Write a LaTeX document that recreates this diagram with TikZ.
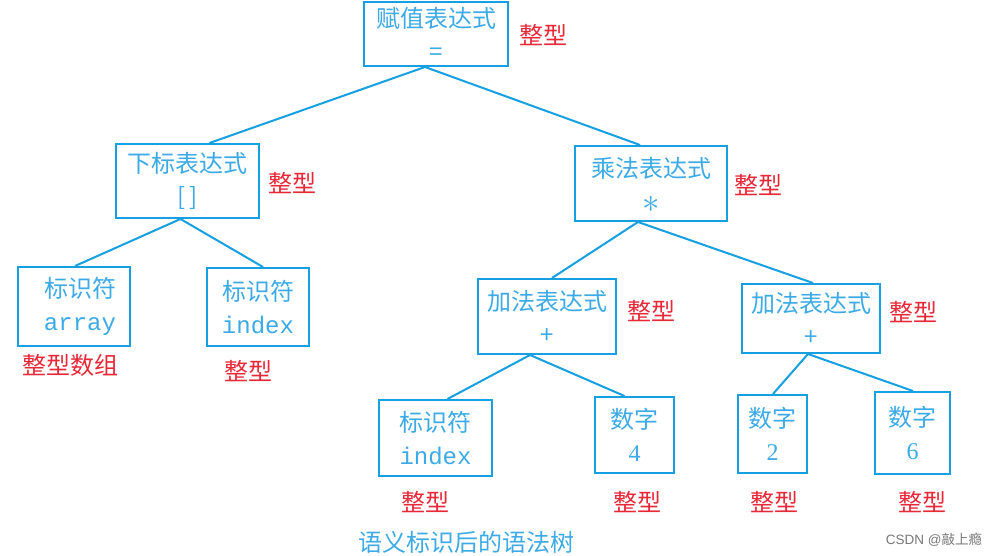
\documentclass[tikz,border=0pt]{standalone}
\usepackage{fontspec}
\usepackage{graphicx}
\setmainfont{Liberation Serif}
\newfontfamily\cjk{Noto Sans CJK SC}
\newfontfamily\codefont{Liberation Mono}
\newfontfamily\wmfont{Liberation Sans}
\definecolor{boxblue}{RGB}{22,160,225}
\definecolor{txtblue}{RGB}{60,170,230}
\definecolor{lblred}{RGB}{232,40,55}
\definecolor{wmgray}{RGB}{120,120,120}
\tikzset{
  treebox/.style={draw=boxblue, line width=2pt, align=center, text=txtblue,
    inner sep=0pt, font=\fontsize{24}{33}\selectfont\cjk},
  typelbl/.style={text=lblred, font=\fontsize{24}{28}\selectfont\cjk, inner sep=0pt},
  edge/.style={draw=boxblue, line width=2pt},
}
\begin{document}
\begin{tikzpicture}[x=1pt,y=-1pt]
\useasboundingbox[fill=white] (0,0) rectangle (998,556);
% boxes
\node[treebox, minimum width=144pt, minimum height=64pt] (root) at (436,34) {赋值表达式\\{=}};
\node[treebox, minimum width=143pt, minimum height=74pt] (sub) at (187.5,181) {下标表达式\\{[\,]}};
\node[treebox, minimum width=152pt, minimum height=75pt] (mul) at (651,183.5) {乘法表达式\\{\raisebox{-2pt}[0pt][0pt]{\scalebox{1.4}{$\ast$}}}};
\node[treebox, minimum width=112pt, minimum height=79pt] (arr) at (74,306.5) {\hspace*{12pt}标识符\\\hspace*{12pt}{\codefont array}};
\node[treebox, minimum width=102pt, minimum height=78pt] (idxa) at (258,307) {标识符\\{\codefont index}};
\node[treebox, minimum width=138pt, minimum height=75pt] (adda) at (547,316.5) {加法表达式\\{+}};
\node[treebox, minimum width=138pt, minimum height=69pt] (addb) at (811,318.5) {加法表达式\\{+}};
\node[treebox, minimum width=113pt, minimum height=76pt] (idxb) at (435.5,438) {标识符\\{\codefont index}};
\node[treebox, minimum width=79pt, minimum height=76pt] (nfour) at (634.5,435) {数字\\{\rmfamily 4}};
\node[treebox, minimum width=69pt, minimum height=78pt] (ntwo) at (772.5,434) {数字\\{\rmfamily 2}};
\node[treebox, minimum width=75pt, minimum height=82pt] (nsix) at (912.5,433) {数字\\{\rmfamily 6}};
% edges
\draw[edge] ([xshift=-11pt]root.south) -- ([xshift=22pt]sub.north);
\draw[edge] ([xshift=-11pt]root.south) -- ([xshift=-11pt]mul.north);
\draw[edge] ([xshift=-7pt]sub.south) -- ([xshift=1pt]arr.north);
\draw[edge] ([xshift=-7pt]sub.south) -- ([xshift=5pt]idxa.north);
\draw[edge] ([xshift=-13pt]mul.south) -- ([xshift=5pt]adda.north);
\draw[edge] ([xshift=-13pt]mul.south) -- ([xshift=2pt]addb.north);
\draw[edge] ([xshift=-17pt]adda.south) -- ([xshift=12pt]idxb.north);
\draw[edge] ([xshift=-17pt]adda.south) -- ([xshift=-10pt]nfour.north);
\draw[edge] ([xshift=-3pt]addb.south) -- ([xshift=0.5pt]ntwo.north);
\draw[edge] ([xshift=-3pt]addb.south) -- ([xshift=0.5pt]nsix.north);
% type labels
\node[typelbl] (troot) at (543,35) {整型};
\node[typelbl] (tsub) at (292,183) {整型};
\node[typelbl] (tmul) at (758,185) {整型};
\node[typelbl] (tarr) at (70,365) {整型数组};
\node[typelbl] (tidxa) at (248,371) {整型};
\node[typelbl] (tadda) at (651,311) {整型};
\node[typelbl] (taddb) at (913,312) {整型};
\node[typelbl] (tidxb) at (425,502) {整型};
\node[typelbl] (tfour) at (637,502) {整型};
\node[typelbl] (ttwo) at (774,502) {整型};
\node[typelbl] (tsix) at (922,502) {整型};
% caption
\node[text=txtblue, font=\fontsize{24}{28}\selectfont\cjk, inner sep=0pt] (caption) at (466,542) {语义标识后的语法树};
\node[text=wmgray, font=\fontsize{13.5}{15}\selectfont\wmfont, inner sep=0pt] (wm) at (934,540) {CSDN @{\cjk 敲上瘾}};
\end{tikzpicture}
\end{document}
